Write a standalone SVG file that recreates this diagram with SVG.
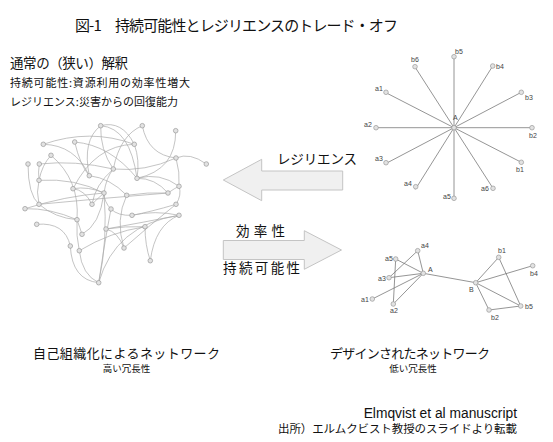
<svg xmlns="http://www.w3.org/2000/svg" width="553" height="442" viewBox="0 0 553 442">
<style>
.jp{font-family:"Noto Sans CJK JP","Noto Sans",sans-serif;fill:#111}
.lat{font-family:"Liberation Sans",Arial,sans-serif;fill:#111}
.lbl{font-family:"Liberation Sans",Arial,sans-serif;font-size:7px;fill:#444}
.e{fill:none;stroke:#ababab;stroke-width:0.7}
.s{fill:none;stroke:#7a7a7a;stroke-width:0.8}
.n{fill:#e2e2e2;stroke:#999;stroke-width:0.7}
.arr{fill:#f0f0f0;stroke:#c4c4c4;stroke-width:1}
</style>
<rect width="553" height="442" fill="#fff"/>
<g id="title"><text class="jp" x="75" y="31" font-size="15" textLength="323">図-1　持続可能性とレジリエンスのトレード・オフ</text></g>
<g id="intro">
<text class="jp" x="10" y="68" font-size="13.5" textLength="118">通常の（狭い）解釈</text>
<text class="jp" x="10" y="87" font-size="11" textLength="180">持続可能性:資源利用の効率性増大</text>
<text class="jp" x="10" y="106" font-size="11" textLength="168">レジリエンス:災害からの回復能力</text>
</g>
<g id="connectors">
<g id="left-edges">
<path class="e" d="M100.7 125.7Q130 128 137 178.3"/>
<path class="e" d="M100.7 125.7Q100 150 113.3 169"/>
<path class="e" d="M100.7 125.7Q122 120 134.3 144.3"/>
<path class="e" d="M100.7 125.7Q82 140 89.3 175.7"/>
<path class="e" d="M142.3 125.7Q120 135 113.3 169"/>
<path class="e" d="M142.3 125.7Q148 155 176 158"/>
<path class="e" d="M175.7 130.7Q176 170 137 178.3"/>
<path class="e" d="M176 158Q190 152 206.3 164"/>
<path class="e" d="M176 158Q180 172 179 186.3"/>
<path class="e" d="M113.3 169Q145 172 176 158"/>
<path class="e" d="M43.3 144.3Q75 145 89.3 175.7"/>
<path class="e" d="M43.3 144.3Q90 128 134.3 144.3"/>
<path class="e" d="M74.7 142Q80 165 89.3 175.7"/>
<path class="e" d="M74.7 142Q110 145 137 178.3"/>
<path class="e" d="M134.3 144.3Q95 145 73 188.7"/>
<path class="e" d="M134.3 144.3Q140 160 137 178.3"/>
<path class="e" d="M51 155.3Q42 165 39 180.3"/>
<path class="e" d="M51 155.3Q80 180 77 219.7"/>
<path class="e" d="M28 164Q28 195 39 204.3"/>
<path class="e" d="M39.3 164Q75 160 113.3 169"/>
<path class="e" d="M39.3 164Q38 172 39 180.3"/>
<path class="e" d="M39 180.3Q75 178 104 193"/>
<path class="e" d="M39 180.3Q36 192 39 204.3"/>
<path class="e" d="M73 188.7Q85 190 92 204.3"/>
<path class="e" d="M73 188.7Q88 186 104 193"/>
<path class="e" d="M104 193Q106 178 113.3 169"/>
<path class="e" d="M104 193Q108 240 98.7 282.7"/>
<path class="e" d="M104 193Q96 200 92 204.3"/>
<path class="e" d="M104 193Q104 202 111 209"/>
<path class="e" d="M126.7 195.3Q148 192 168 193"/>
<path class="e" d="M126.7 195.3Q115 220 124 248"/>
<path class="e" d="M168 193Q155 178 137 178.3"/>
<path class="e" d="M39 204.3Q105 198 168 193"/>
<path class="e" d="M39 204.3Q55 218 77 219.7"/>
<path class="e" d="M25 208.7Q50 208 77 219.7"/>
<path class="e" d="M25 208.7Q65 196 104 193"/>
<path class="e" d="M111 209Q118 216 132 215.3"/>
<path class="e" d="M132 215.3Q155 210 179 215.3"/>
<path class="e" d="M179 215.3Q145 222 106 229"/>
<path class="e" d="M179 215.3Q115 225 98.7 282.7"/>
<path class="e" d="M179 215.3Q155 225 150.3 260.7"/>
<path class="e" d="M36.7 224.3Q65 222 70.3 246"/>
<path class="e" d="M77 219.7Q80 228 82 234.3"/>
<path class="e" d="M77 219.7Q76 236 79.3 250.7"/>
<path class="e" d="M82 234.3Q100 225 104 193"/>
<path class="e" d="M70.3 246Q72 280 98.7 282.7"/>
<path class="e" d="M79.3 250.7Q82 275 98.7 282.7"/>
<path class="e" d="M106 229Q118 232 124 248"/>
<path class="e" d="M106 229Q125 226 145 226.7"/>
<path class="e" d="M145 226.7Q145 245 150.3 260.7"/>
<path class="e" d="M124 248Q150 225 176 204.3"/>
<path class="e" d="M79.3 250.7Q110 232 145 226.7"/>
<path class="e" d="M179 186.3Q182 195 176 204.3"/>
<path class="e" d="M176 204.3Q150 212 132 215.3"/>
<path class="e" d="M113.3 169Q95 185 92 204.3"/>
<path class="e" d="M98.7 282.7Q105 240 111 209"/>
<path class="e" d="M168 193Q175 188 179 186.3"/>
<path class="e" d="M89.3 175.7Q110 178 126.7 195.3"/>
<path class="e" d="M137 178.3Q160 172 179 186.3"/>
</g>
<g id="star-edges">
<path class="s" d="M454 56.7V198.3M376 127.7H532M492.7 66L415.3 189.4M521.3 92.3L386.7 163.1M521.3 162.3L386.7 93.1M493 188.3L415 67"/>
</g>
<g id="designed-edges">
<path class="s" d="M423.3 273.3L417.7 250.7M423.3 273.3L395.7 259M423.3 273.3L389 277.7M423.3 273.3L372.3 299M423.3 273.3L393.3 304M417.7 250.7L389 277.7M395.7 259L393.3 304M423.3 273.3L475.7 282.7M475.7 282.7L498.7 257.3M475.7 282.7L532.7 265.7M475.7 282.7L520.7 306M475.7 282.7L489 310M498.7 257.3L520.7 306M489 310L520.7 306"/>
</g>
</g>
<g id="self-organized-network">
<circle class="n" cx="100.7" cy="125.7" r="2.3"/><circle class="n" cx="142.3" cy="125.7" r="2.3"/><circle class="n" cx="175.7" cy="130.7" r="2.3"/>
<circle class="n" cx="43.3" cy="144.3" r="2.3"/><circle class="n" cx="74.7" cy="142" r="2.3"/><circle class="n" cx="134.3" cy="144.3" r="2.3"/>
<circle class="n" cx="51" cy="155.3" r="2.3"/><circle class="n" cx="28" cy="164" r="2.3"/><circle class="n" cx="39.3" cy="164" r="2.3"/>
<circle class="n" cx="176" cy="158" r="2.3"/><circle class="n" cx="206.3" cy="164" r="2.3"/><circle class="n" cx="113.3" cy="169" r="2.3"/>
<circle class="n" cx="89.3" cy="175.7" r="2.3"/><circle class="n" cx="137" cy="178.3" r="2.3"/><circle class="n" cx="39" cy="180.3" r="2.3"/>
<circle class="n" cx="179" cy="186.3" r="2.3"/><circle class="n" cx="73" cy="188.7" r="2.3"/><circle class="n" cx="104" cy="193" r="2.3"/>
<circle class="n" cx="126.7" cy="195.3" r="2.3"/><circle class="n" cx="168" cy="193" r="2.3"/><circle class="n" cx="39" cy="204.3" r="2.3"/>
<circle class="n" cx="92" cy="204.3" r="2.3"/><circle class="n" cx="176" cy="204.3" r="2.3"/><circle class="n" cx="25" cy="208.7" r="2.3"/>
<circle class="n" cx="111" cy="209" r="2.3"/><circle class="n" cx="132" cy="215.3" r="2.3"/><circle class="n" cx="179" cy="215.3" r="2.3"/>
<circle class="n" cx="77" cy="219.7" r="2.3"/><circle class="n" cx="36.7" cy="224.3" r="2.3"/><circle class="n" cx="106" cy="229" r="2.3"/>
<circle class="n" cx="145" cy="226.7" r="2.3"/><circle class="n" cx="82" cy="234.3" r="2.3"/><circle class="n" cx="70.3" cy="246" r="2.3"/>
<circle class="n" cx="124" cy="248" r="2.3"/><circle class="n" cx="79.3" cy="250.7" r="2.3"/><circle class="n" cx="150.3" cy="260.7" r="2.3"/>
<circle class="n" cx="98.7" cy="282.7" r="2.3"/>
</g>
<g id="star-network">
<circle class="n" cx="454" cy="127.7" r="2.3"/><text class="lbl" x="453" y="120">A</text>
<circle class="n" cx="454" cy="56.7" r="2.3"/><text class="lbl" x="455" y="54">b5</text>
<circle class="n" cx="492.7" cy="66" r="2.3"/><text class="lbl" x="496" y="68.5">b4</text>
<circle class="n" cx="521.3" cy="92.3" r="2.3"/><text class="lbl" x="525" y="99.5">b3</text>
<circle class="n" cx="532" cy="127.7" r="2.3"/><text class="lbl" x="529" y="138">b2</text>
<circle class="n" cx="521.3" cy="162.3" r="2.3"/><text class="lbl" x="516" y="172">b1</text>
<circle class="n" cx="493" cy="188.3" r="2.3"/><text class="lbl" x="481" y="191">a6</text>
<circle class="n" cx="454" cy="198.3" r="2.3"/><text class="lbl" x="443" y="199">a5</text>
<circle class="n" cx="415.7" cy="186.7" r="2.3"/><text class="lbl" x="404" y="186">a4</text>
<circle class="n" cx="386" cy="162.7" r="2.3"/><text class="lbl" x="375" y="161">a3</text>
<circle class="n" cx="376" cy="127.7" r="2.3"/><text class="lbl" x="364" y="127">a2</text>
<circle class="n" cx="386" cy="92.3" r="2.3"/><text class="lbl" x="375" y="91">a1</text>
<circle class="n" cx="415" cy="66.7" r="2.3"/><text class="lbl" x="411" y="62">b6</text>
</g>
<g id="designed-network">
<circle class="n" cx="423.3" cy="273.3" r="2.3"/><text class="lbl" x="428" y="272">A</text>
<circle class="n" cx="417.7" cy="250.7" r="2.3"/><text class="lbl" x="421" y="248">a4</text>
<circle class="n" cx="395.7" cy="259" r="2.3"/><text class="lbl" x="385" y="261">a5</text>
<circle class="n" cx="389" cy="277.7" r="2.3"/><text class="lbl" x="378" y="281">a3</text>
<circle class="n" cx="372.3" cy="299" r="2.3"/><text class="lbl" x="361" y="302">a1</text>
<circle class="n" cx="393.3" cy="304" r="2.3"/><text class="lbl" x="390" y="313">a2</text>
<circle class="n" cx="475.7" cy="282.7" r="2.3"/><text class="lbl" x="469" y="292">B</text>
<circle class="n" cx="498.7" cy="257.3" r="2.3"/><text class="lbl" x="498" y="253">b1</text>
<circle class="n" cx="532.7" cy="265.7" r="2.3"/><text class="lbl" x="530" y="276">b4</text>
<circle class="n" cx="520.7" cy="306" r="2.3"/><text class="lbl" x="525" y="309">b5</text>
<circle class="n" cx="489" cy="310" r="2.3"/><text class="lbl" x="491" y="320">b2</text>
</g>
<g id="arrow-resilience">
<path class="arr" d="M223.3 180L261.7 159.3V171H342.7V190H261.7V200.7Z"/>
<text class="jp" x="277" y="164" font-size="13.5" textLength="80">レジリエンス</text>
</g>
<g id="arrow-efficiency">
<path class="arr" d="M223.3 240.5H304.3V230.7L341.5 250L304.3 269.3V259.5H223.3Z"/>
<text class="jp" x="236" y="236" font-size="13.5" textLength="49">効率性</text>
<text class="jp" x="223" y="273" font-size="13.5" textLength="77">持続可能性</text>
</g>
<g id="captions">
<text class="jp" x="126.5" y="357.5" font-size="13" text-anchor="middle" textLength="187">自己組織化によるネットワーク</text>
<text class="jp" x="126.5" y="372" font-size="9.5" text-anchor="middle">高い冗長性</text>
<text class="jp" x="410" y="357.5" font-size="13" text-anchor="middle" textLength="160">デザインされたネットワーク</text>
<text class="jp" x="413" y="372" font-size="9.5" text-anchor="middle">低い冗長性</text>
</g>
<g id="source">
<text class="lat" x="517" y="418" font-size="13.8" text-anchor="end">Elmqvist et al manuscript</text>
<text class="jp" x="517" y="433" font-size="11.5" text-anchor="end" textLength="239">出所）エルムクビスト教授のスライドより転載</text>
</g>
</svg>
